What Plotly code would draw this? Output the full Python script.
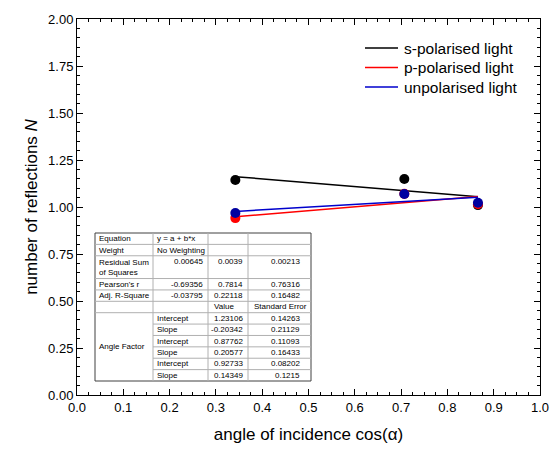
import numpy as np
import plotly.graph_objects as go

# ---- data ----
cos_alpha = [0.342, 0.707, 0.866]
s_pol = [1.144, 1.149, 1.010]
p_pol = [0.941, 1.070, 1.015]
unpol = [0.968, 1.069, 1.023]

series_names = ["s-polarised light", "p-polarised light", "unpolarised light"]
series_colors = ["#000000", "#ff0000", "#0000a0"]
line_colors = ["#000000", "#ff0000", "#0000cc"]

fit_intercepts = [1.23106, 0.87762, 0.92733]
fit_slopes = [-0.20342, 0.20577, 0.14349]

# table contents
tbl_labels = ["Equation", "Weight", "Residual Sum<br>of Squares", "Pearson's r", "Adj. R-Square"]
tbl_equation = "y = a + b*x"
tbl_weight = "No Weighting"
tbl_rss = ["0.00645", "0.0039", "0.00213"]
tbl_pearson = ["-0.69356", "0.7814", "0.76316"]
tbl_adjr2 = ["-0.03795", "0.22118", "0.16482"]
tbl_header = ["Value", "Standard Error"]
tbl_param_group = "Angle Factor"
tbl_params = ["Intercept", "Slope", "Intercept", "Slope", "Intercept", "Slope"]
tbl_values = ["1.23106", "-0.20342", "0.87762", "0.20577", "0.92733", "0.14349"]
tbl_errors = ["0.14263", "0.21129", "0.11093", "0.16433", "0.08202", "0.1215"]

FONT = "Liberation Sans, Arial, sans-serif"
W, H = 553, 449
L, R, T, B = 77, 13, 19, 54
PW, PH = W - L - R, H - T - B


def px(x):
    return (x - L) / PW


def py(y):
    return (H - B - y) / PH


fig = go.Figure()

all_series = [s_pol, p_pol, unpol]
xs = np.array([min(cos_alpha), max(cos_alpha)])
for name, a, b, col in zip(series_names, fit_intercepts, fit_slopes, line_colors):
    fig.add_trace(go.Scatter(x=xs, y=a + b * xs, mode="lines", name=name,
                             line=dict(color=col, width=1.5), showlegend=False))
for name, vals, col in zip(series_names, all_series, series_colors):
    fig.add_trace(go.Scatter(x=cos_alpha, y=vals, mode="markers", name=name,
                             marker=dict(color=col, size=10, symbol="circle"),
                             showlegend=False))

shapes = []
ann = []

# ---- legend (drawn manually for exact spacing) ----
leg_y = [48, 67.5, 87]
for name, col, yy in zip(series_names, line_colors, leg_y):
    shapes.append(dict(type="line", xref="paper", yref="paper", x0=px(365), x1=px(398),
                       y0=py(yy), y1=py(yy), line=dict(color=col, width=1.5)))
    ann.append(dict(x=px(402), y=py(yy), xref="paper", yref="paper", text=name,
                    showarrow=False, xanchor="left", yanchor="middle",
                    font=dict(family=FONT, size=15.5, color="black")))

# ---- table drawing ----
cols = [95, 153, 208, 248, 311]
top, bottom = 233, 381
h = (bottom - top) / 13.0
rows = [top]
for i in range(12):
    rows.append(rows[-1] + (2 * h if i == 2 else h))

shapes.append(dict(type="rect", xref="paper", yref="paper", x0=px(cols[0]), x1=px(cols[4]),
                   y0=py(bottom), y1=py(top), fillcolor="white",
                   line=dict(color="#404040", width=1), layer="above"))
grid = dict(color="#b0b0b0", width=1)
for i in range(1, 12):
    x0 = cols[0] if i <= 6 else cols[1]
    shapes.append(dict(type="line", xref="paper", yref="paper", x0=px(x0), x1=px(cols[4]),
                       y0=py(rows[i]), y1=py(rows[i]), line=grid, layer="above"))
for c in cols[1:4]:
    shapes.append(dict(type="line", xref="paper", yref="paper", x0=px(c), x1=px(c),
                       y0=py(bottom), y1=py(top), line=grid, layer="above"))


def txt(x, y, s, anchor="left"):
    ann.append(dict(x=px(x), y=py(y), xref="paper", yref="paper", text=s, showarrow=False,
                    xanchor=anchor, yanchor="middle", align="left",
                    font=dict(family=FONT, size=8, color="black")))


def mid(i):
    return (rows[i] + rows[i + 1]) / 2


for i, lab in enumerate(tbl_labels):
    txt(cols[0] + 2, mid(i), lab)
txt(cols[1] + 2, mid(0), tbl_equation)
txt(cols[1] + 2, mid(1), tbl_weight)
rss_y = rows[2] + h / 2 + 0.5
num_right = [cols[2] - 3, cols[3] - 3, cols[4] - 9]
for vals, yy in [(tbl_rss, rss_y), (tbl_pearson, mid(3)), (tbl_adjr2, mid(4))]:
    for v, xr in zip(vals, num_right):
        txt(xr, yy, v, "right")
txt(cols[2] + 4, mid(5), tbl_header[0])
txt(cols[3] + 4, mid(5), tbl_header[1])
txt(cols[0] + 2, (rows[6] + rows[12]) / 2, tbl_param_group)
for k in range(6):
    txt(cols[1] + 2, mid(6 + k), tbl_params[k])
    txt(num_right[1], mid(6 + k), tbl_values[k], "right")
    txt(num_right[2], mid(6 + k), tbl_errors[k], "right")

axis_common = dict(showline=True, linecolor="black", linewidth=1, mirror="allticks",
                   ticks="inside", ticklen=6, tickwidth=1, tickcolor="black",
                   showgrid=False, zeroline=False,
                   tickfont=dict(family=FONT, size=13, color="black"))

fig.update_layout(
    width=W, height=H,
    margin=dict(l=L, r=R, t=T, b=B, autoexpand=False),
    paper_bgcolor="white", plot_bgcolor="white",
    font=dict(family=FONT, color="black"),
    shapes=shapes, annotations=ann,
    xaxis=dict(range=[0, 1], dtick=0.1, tick0=0, tickformat=".1f",
               minor=dict(dtick=0.025, ticklen=3, tickcolor="black", ticks="inside"),
               title=dict(text="angle of incidence cos(α)", font=dict(family=FONT, size=17), standoff=14),
               **axis_common),
    yaxis=dict(range=[0, 2], dtick=0.25, tick0=0, tickformat=".2f",
               minor=dict(dtick=0.05, ticklen=3, tickcolor="black", ticks="inside"),
               title=dict(text="number of reflections <i>N</i>", font=dict(family=FONT, size=17), standoff=6),
               **axis_common),
    showlegend=False,
)

fig.write_html("out.html")
